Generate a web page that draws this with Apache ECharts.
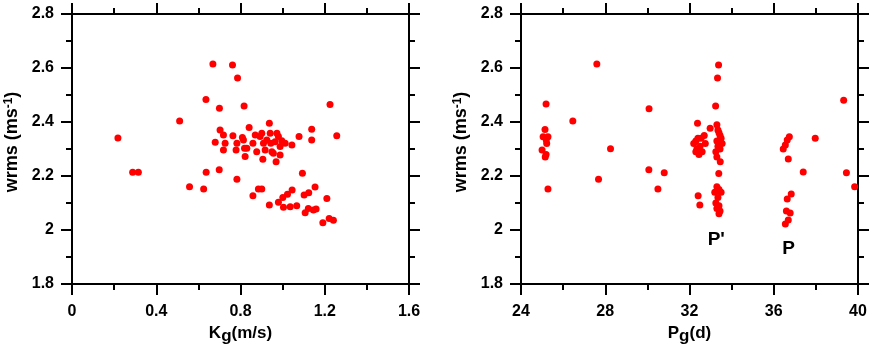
<!DOCTYPE html>
<html>
<head>
<meta charset="utf-8">
<script src="https://cdn.jsdelivr.net/npm/echarts@6/dist/echarts.min.js"></script>
<style>
  html, body { margin: 0; padding: 0; background: #fff; }
  #chart { width: 872px; height: 351px; }
</style>
</head>
<body>
<div id="chart"></div>
<script>
// wrms vs K_g (left panel), [Kg, wrms]
var kgPoints = [
  [0.218, 2.341], [0.288, 2.214], [0.315, 2.214], [0.511, 2.404], [0.558, 2.160],
  [0.625, 2.152], [0.636, 2.483], [0.669, 2.615], [0.762, 2.611], [0.786, 2.563],
  [0.700, 2.451], [0.817, 2.459], [0.637, 2.214], [0.699, 2.223], [0.783, 2.188],
  [0.680, 2.325], [0.703, 2.370], [0.719, 2.352], [0.727, 2.321], [0.719, 2.296],
  [0.764, 2.349], [0.783, 2.321], [0.779, 2.296], [0.809, 2.343], [0.814, 2.333],
  [0.819, 2.303], [0.830, 2.303], [0.822, 2.272], [0.841, 2.380], [0.859, 2.321],
  [0.870, 2.352], [0.877, 2.290], [0.893, 2.346], [0.901, 2.358], [0.909, 2.321],
  [0.917, 2.296], [0.906, 2.262], [0.925, 2.333], [0.937, 2.395], [0.941, 2.358],
  [0.944, 2.321], [0.949, 2.290], [0.956, 2.284], [0.964, 2.327], [0.973, 2.358],
  [0.980, 2.346], [0.988, 2.309], [0.969, 2.253], [0.996, 2.331], [1.012, 2.321],
  [0.988, 2.278], [1.044, 2.315], [1.078, 2.346], [1.138, 2.373], [1.138, 2.333],
  [1.225, 2.465], [1.257, 2.349],
  [0.859, 2.127], [0.885, 2.152], [0.901, 2.152], [0.937, 2.093], [0.980, 2.103],
  [1.001, 2.120], [1.023, 2.132], [1.045, 2.148], [1.004, 2.084], [1.036, 2.086],
  [1.067, 2.090], [1.094, 2.210], [1.102, 2.130], [1.124, 2.138], [1.154, 2.159],
  [1.122, 2.080], [1.107, 2.064], [1.146, 2.074], [1.159, 2.078], [1.210, 2.117],
  [1.191, 2.027], [1.221, 2.043], [1.241, 2.036]
];

// wrms vs P_g (right panel), [Pg, wrms]
var pgPoints = [
  [25.19, 2.467], [25.14, 2.372], [25.05, 2.345], [25.28, 2.345], [25.20, 2.333],
  [25.22, 2.320], [25.00, 2.296], [25.19, 2.280], [25.15, 2.270], [25.28, 2.152],
  [26.46, 2.404], [27.60, 2.615], [27.68, 2.188], [28.25, 2.301], [30.08, 2.449],
  [30.07, 2.223], [30.50, 2.152], [30.80, 2.212],
  [32.20, 2.320], [32.30, 2.330], [32.35, 2.300], [32.40, 2.340], [32.45, 2.280],
  [32.50, 2.310], [32.55, 2.340], [32.60, 2.290], [32.70, 2.350], [32.75, 2.320],
  [32.38, 2.395], [32.98, 2.377], [32.30, 2.290],
  [33.30, 2.390], [33.35, 2.370], [33.40, 2.360], [33.45, 2.350], [33.30, 2.330],
  [33.50, 2.340], [33.35, 2.310], [33.45, 2.300], [33.25, 2.290], [33.30, 2.270],
  [33.46, 2.253], [33.39, 2.209], [33.40, 2.330], [33.55, 2.320],
  [33.30, 2.160], [33.40, 2.150], [33.20, 2.140], [33.35, 2.120], [33.25, 2.100],
  [33.40, 2.090], [33.30, 2.080], [33.45, 2.070], [33.40, 2.060], [33.50, 2.140],
  [32.41, 2.127], [32.49, 2.093], [33.24, 2.459], [33.38, 2.611], [33.33, 2.563],
  [36.74, 2.345], [36.64, 2.333], [36.55, 2.315], [36.45, 2.300], [36.69, 2.263],
  [37.97, 2.340], [37.40, 2.215], [36.83, 2.133], [36.64, 2.115], [36.60, 2.070],
  [36.78, 2.063], [36.69, 2.037], [36.55, 2.022],
  [39.32, 2.481], [39.45, 2.212], [39.84, 2.160]
];

// group labels on the right panel, [Pg, wrms, text]
var groupLabels = [[33.27, 1.963, "P'"], [36.70, 1.930, 'P']];

var wrmsTicks = { min: 1.8, max: 2.8, interval: 0.2 };
var kgTicks = { min: 0, max: 1.6, interval: 0.4 };
var pgTicks = { min: 24, max: 40, interval: 4 };

var font = 'Liberation Sans, Arial, sans-serif';

function axis(idx, ticks, pos, opts) {
  var a = {
    type: 'value',
    gridIndex: idx,
    position: pos,
    min: ticks.min,
    max: ticks.max,
    interval: ticks.interval,
    axisLine: { show: true, onZero: false, lineStyle: { color: '#000', width: 2 } },
    axisTick: { show: true, inside: false, length: 11, lineStyle: { color: '#000', width: 2 } },
    minorTick: { show: true, splitNumber: 2, length: 6, lineStyle: { color: '#000', width: 2 } },
    splitLine: { show: false },
    axisLabel: { show: false }
  };
  if (opts) {
    for (var k in opts) a[k] = opts[k];
  }
  return a;
}

var labelStyle = { show: true, color: '#000', fontFamily: font, fontWeight: 'bold', fontSize: 16 };

function xName(letter, sub, unit) {
  return {
    name: letter + '{sub|' + sub + '}' + unit,
    nameLocation: 'middle',
    nameGap: 38,
    nameTextStyle: {
      color: '#000', fontFamily: font, fontWeight: 'bold', fontSize: 17,
      rich: { sub: { fontFamily: font, fontWeight: 'bold', fontSize: 17, verticalAlign: 'bottom', padding: [6, 0, 0, 0] } }
    },
    axisLabel: Object.assign({ margin: 20 }, labelStyle)
  };
}

var yName = {
  name: 'wrms (ms{sup|-1})',
  nameLocation: 'middle',
  nameGap: 51,
  nameTextStyle: {
    color: '#000', fontFamily: font, fontWeight: 'bold', fontSize: 18,
    padding: [0, 0, 0, 14],
    rich: { sup: { fontFamily: font, fontWeight: 'bold', fontSize: 12, verticalAlign: 'top', padding: [0, 0, 6, 0] } }
  },
  axisLabel: Object.assign({ margin: 18 }, labelStyle)
};

var dom = document.getElementById('chart');
var myChart = echarts.init(dom, null, { renderer: 'canvas' });

var option = {
  backgroundColor: '#fff',
  animation: false,
  grid: [
    { left: 72, top: 14, width: 337, height: 270 },
    { left: 521, top: 14, width: 337, height: 270 }
  ],
  xAxis: [
    axis(0, kgTicks, 'bottom', xName('K', 'g', '(m/s)')),
    axis(0, kgTicks, 'top'),
    axis(1, pgTicks, 'bottom', xName('P', 'g', '(d)')),
    axis(1, pgTicks, 'top')
  ],
  yAxis: [
    axis(0, wrmsTicks, 'left', yName),
    axis(0, wrmsTicks, 'right'),
    axis(1, wrmsTicks, 'left', yName),
    axis(1, wrmsTicks, 'right')
  ],
  series: [
    {
      name: 'wrms vs Kg',
      type: 'scatter',
      xAxisIndex: 0,
      yAxisIndex: 0,
      symbolSize: 7,
      itemStyle: { color: '#ff0000', opacity: 1 },
      data: kgPoints
    },
    {
      name: 'wrms vs Pg',
      type: 'scatter',
      xAxisIndex: 2,
      yAxisIndex: 2,
      symbolSize: 7,
      itemStyle: { color: '#ff0000', opacity: 1 },
      data: pgPoints
    },
    {
      name: 'groups',
      type: 'scatter',
      xAxisIndex: 2,
      yAxisIndex: 2,
      symbolSize: 0,
      silent: true,
      itemStyle: { opacity: 1 },
      label: {
        show: true,
        position: 'inside',
        color: '#000',
        fontFamily: font,
        fontWeight: 'bold',
        fontSize: 19,
        formatter: function (p) { return p.value[2]; }
      },
      data: groupLabels
    }
  ]
};

if (option && typeof option === 'object') {
  myChart.setOption(option, true);
}
</script>
</body>
</html>
